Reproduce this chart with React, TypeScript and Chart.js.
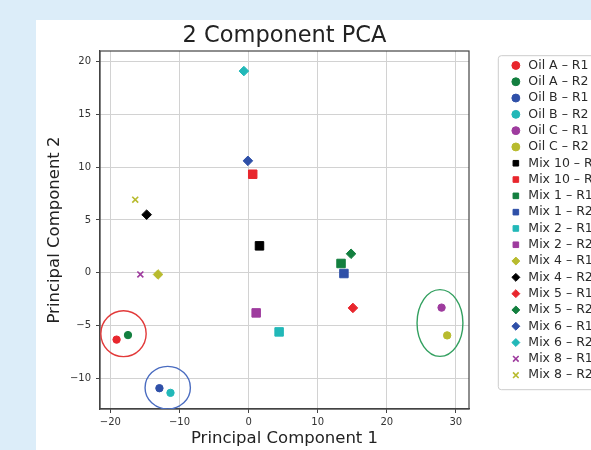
import React, { useEffect, useRef } from 'react';
import { Chart, registerables } from 'chart.js';

Chart.register(...registerables);

// ---- data ----
const SERIES_LABELS = [
  'Oil A – R1', 'Oil A – R2', 'Oil B – R1', 'Oil B – R2', 'Oil C – R1', 'Oil C – R2',
  'Mix 10 – R1', 'Mix 10 – R2', 'Mix 1 – R1', 'Mix 1 – R2', 'Mix 2 – R1', 'Mix 2 – R2',
  'Mix 4 – R1', 'Mix 4 – R2', 'Mix 5 – R1', 'Mix 5 – R2', 'Mix 6 – R1', 'Mix 6 – R2',
  'Mix 8 – R1', 'Mix 8 – R2',
];
const PC1 = [
  -19.1, -17.45, -12.9, -11.3, 27.93, 28.74,
  1.58, 0.6, 13.38, 13.8, 4.42, 1.1,
  -13.1, -14.75, 15.1, 14.83, -0.1, -0.68,
  -15.66, -16.4,
];
const PC2 = [
  -6.33, -5.9, -10.93, -11.37, -3.3, -5.93,
  2.55, 9.33, 0.88, -0.07, -5.6, -3.8,
  -0.16, 5.5, -3.33, 1.8, 10.6, 19.1,
  -0.16, 6.92,
];
const SERIES_COLORS = [
  '#e8262d', '#137f3f', '#2f50a8', '#22b8b8', '#9e3b9e', '#b8bb2e',
  '#000000', '#e8262d', '#137f3f', '#2f50a8', '#22b8b8', '#9e3b9e',
  '#b8bb2e', '#000000', '#e8262d', '#137f3f', '#2f50a8', '#22b8b8',
  '#9e3b9e', '#b8bb2e',
];
const SERIES_MARKERS = [
  'circle', 'circle', 'circle', 'circle', 'circle', 'circle',
  'rect', 'rect', 'rect', 'rect', 'rect', 'rect',
  'rectRot', 'rectRot', 'rectRot', 'rectRot', 'rectRot', 'rectRot',
  'crossRot', 'crossRot',
];
// cluster ellipses (centre and radii in data units)
const CLUSTER_CX = [-18.1, -11.7, 27.7];
const CLUSTER_CY = [-5.77, -10.88, -4.76];
const CLUSTER_RX = [3.28, 3.28, 3.32];
const CLUSTER_RY = [2.17, 2.02, 3.16];
const CLUSTER_COLORS = ['#e23a3a', '#4a6cc0', '#33a060'];

const X_MIN = -21.5, X_MAX = 31.9, X_STEP = 10;
const Y_MIN = -12.9, Y_MAX = 21, Y_STEP = 5;

const TITLE = '2 Component PCA';
const X_TITLE = 'Principal Component 1';
const Y_TITLE = 'Principal Component 2';

// ---- style ----
const FONT = 'DejaVu Sans';
const MARKER_RADIUS: Record<string, number> = { circle: 3.7, rect: 6, rectRot: 4.8, crossRot: 4.2 };
const LEGEND_LEFT = 469.8;
const LEGEND_TOP = 35.4;

const fmt = (v: number) => (v < 0 ? '\u2212' + Math.abs(v) : String(v));

const framePlugin = {
  id: 'frame',
  afterLayout(chart: any) {
    const lg = chart.legend;
    if (!lg) return;
    const dx = LEGEND_LEFT - lg.left;
    const dy = LEGEND_TOP - lg.top;
    lg.left += dx; lg.right += dx; lg.top += dy; lg.bottom += dy;
  },
  beforeDatasetsDraw(chart: any) {
    const { ctx, chartArea: a } = chart;
    ctx.save();
    ctx.strokeStyle = '#444';
    ctx.lineWidth = 1.2;
    ctx.strokeRect(a.left, a.top, a.right - a.left, a.bottom - a.top);
    ctx.restore();
  },
  afterDatasetsDraw(chart: any) {
    const { ctx, chartArea: a } = chart;
    const xs = chart.scales.x, ys = chart.scales.y;
    ctx.save();
    ctx.beginPath();
    ctx.rect(a.left, a.top, a.right - a.left, a.bottom - a.top);
    ctx.clip();
    CLUSTER_CX.forEach((cx, i) => {
      const px = xs.getPixelForValue(cx);
      const py = ys.getPixelForValue(CLUSTER_CY[i]);
      const rx = Math.abs(xs.getPixelForValue(cx + CLUSTER_RX[i]) - px);
      const ry = Math.abs(ys.getPixelForValue(CLUSTER_CY[i] + CLUSTER_RY[i]) - py);
      ctx.beginPath();
      ctx.ellipse(px, py, rx, ry, 0, 0, Math.PI * 2);
      ctx.strokeStyle = CLUSTER_COLORS[i];
      ctx.lineWidth = 1.4;
      ctx.stroke();
    });
    ctx.restore();
  },
  afterDraw(chart: any) {
    const lg = chart.legend;
    if (!lg) return;
    const { ctx } = chart;
    const h = (lg.columnSizes && lg.columnSizes[0] ? lg.columnSizes[0].height : 326) + 8;
    const x = lg.left - 7.5, y = lg.top + 0.3, w = 300, r = 3;
    ctx.save();
    ctx.strokeStyle = '#cccccc';
    ctx.lineWidth = 1;
    ctx.beginPath();
    ctx.moveTo(x + r, y);
    ctx.lineTo(x + w, y);
    ctx.moveTo(x + w, y + h);
    ctx.lineTo(x + r, y + h);
    ctx.arcTo(x, y + h, x, y + h - r, r);
    ctx.lineTo(x, y + r);
    ctx.arcTo(x, y, x + r, y, r);
    ctx.stroke();
    ctx.restore();
  },
};

export default function App() {
  const ref = useRef<HTMLCanvasElement | null>(null);

  useEffect(() => {
    if (!ref.current) return;
    const datasets = SERIES_LABELS.map((label, i) => {
      const m = SERIES_MARKERS[i];
      return {
        label,
        data: [{ x: PC1[i], y: PC2[i] }],
        pointStyle: m,
        pointRadius: MARKER_RADIUS[m],
        backgroundColor: SERIES_COLORS[i],
        borderColor: SERIES_COLORS[i],
        borderWidth: m === 'crossRot' ? 1.6 : 1,
        showLine: false,
      };
    });
    const chart = new Chart(ref.current, {
      type: 'scatter',
      data: { datasets } as any,
      plugins: [framePlugin],
      options: {
        animation: false,
        responsive: false,
        layout: { padding: { left: 0, right: 60, top: 0, bottom: 0 } },
        scales: {
          x: {
            type: 'linear',
            position: 'bottom',
            min: X_MIN,
            max: X_MAX,
            ticks: {
              stepSize: X_STEP,
              includeBounds: false,
              font: { family: FONT, size: 10 },
              color: '#333',
              padding: 3,
              callback: (v: any) => fmt(Number(v)),
            },
            grid: { color: '#d2d2d2', lineWidth: 1, tickColor: '#444', tickLength: 4 },
            border: { color: '#444', width: 1.2 },
            title: {
              display: true,
              text: X_TITLE,
              font: { family: FONT, size: 16.5 },
              color: '#222',
              padding: { top: 0, bottom: 1 },
            },
            afterFit: (s: any) => { s.height = 41; },
          },
          y: {
            type: 'linear',
            min: Y_MIN,
            max: Y_MAX,
            ticks: {
              stepSize: Y_STEP,
              includeBounds: false,
              font: { family: FONT, size: 10 },
              color: '#333',
              padding: 5,
              callback: (v: any) => fmt(Number(v)),
            },
            grid: { color: '#d2d2d2', lineWidth: 1, tickColor: '#444', tickLength: 4 },
            border: { color: '#444', width: 1.2 },
            title: {
              display: true,
              text: Y_TITLE,
              font: { family: FONT, size: 16.5 },
              color: '#222',
              padding: { top: 9, bottom: 0 },
            },
            afterFit: (s: any) => { s.width = 64; },
          },
        },
        plugins: {
          title: {
            display: true,
            text: TITLE,
            fullSize: false,
            font: { family: FONT, size: 22.5, weight: 'normal' },
            color: '#222',
            padding: { top: 3, bottom: 1 },
          },
          legend: {
            position: 'right',
            align: 'start',
            maxWidth: 90,
            labels: {
              usePointStyle: true,
              boxWidth: 12.5,
              boxHeight: 5.6,
              padding: 3.8,
              font: { family: FONT, size: 12.5 },
              color: '#2a2a2a',
            },
          },
          tooltip: { enabled: false },
        },
      } as any,
    });
    return () => chart.destroy();
  }, []);

  return (
    <div style={{ position: 'fixed', left: 0, top: 0, width: 591, height: 450, background: '#dcedf9', overflow: 'hidden' }}>
      <div style={{ position: 'absolute', left: 36, top: 20, width: 700, height: 430, background: '#ffffff' }}>
        <canvas ref={ref} width={583} height={430} style={{ position: 'absolute', left: 0, top: 0, width: 583, height: 430 }} />
      </div>
    </div>
  );
}
